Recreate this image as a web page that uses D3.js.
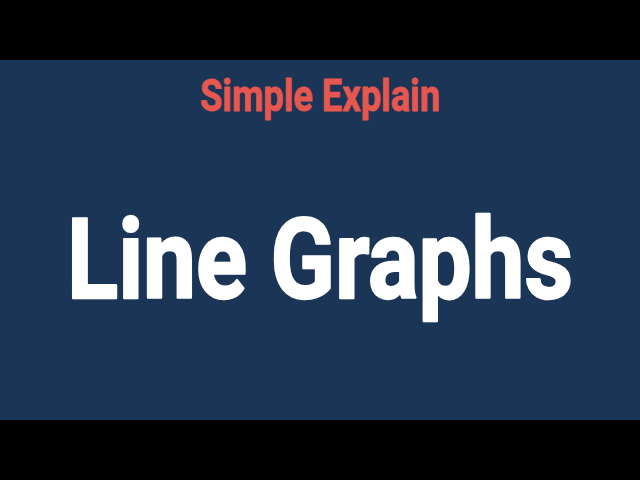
<!DOCTYPE html>
<html>
<head>
<meta charset="utf-8">
<script src="https://cdn.jsdelivr.net/npm/d3@7"></script>
<style>
  body { margin: 0; background: #000; }
  svg { display: block; }
</style>
</head>
<body>
<svg id="card"></svg>
<script>
// title card texts
const titles = ['Simple Explain', 'Line Graphs'];
const titleColors = ['#e5574f', '#ffffff'];
const titleSizes = [44, 112];
const titleWidths = [240, 506];
const titleBaselines = [111, 298];
const titleStrokes = [0.8, 2.4];

const width = 640, height = 480;
const bar = 60; // letterbox height

const svg = d3.select('#card')
  .attr('width', width)
  .attr('height', height);

svg.append('rect')
  .attr('width', width)
  .attr('height', height)
  .attr('fill', '#000');

svg.append('rect')
  .attr('y', bar)
  .attr('width', width)
  .attr('height', height - bar * 2)
  .attr('fill', '#1b3556');

const t = svg.selectAll('text.title')
  .data(titles)
  .enter()
  .append('text')
  .attr('class', 'title')
  .attr('x', 0)
  .attr('y', 0)
  .attr('text-anchor', 'middle')
  .style('font-family', 'Roboto, sans-serif')
  .style('font-weight', 700)
  .style('font-size', (d, i) => titleSizes[i] + 'px')
  .style('fill', (d, i) => titleColors[i])
  .style('stroke', (d, i) => titleColors[i])
  .style('stroke-width', (d, i) => titleStrokes[i])
  .style('stroke-linejoin', 'round')
  .text(d => d);

// squeeze each title horizontally to the condensed width of the reference
t.attr('transform', function (d, i) {
  const k = titleWidths[i] / this.getComputedTextLength();
  return `translate(${width / 2},${titleBaselines[i]}) scale(${k},1)`;
});
</script>
</body>
</html>
